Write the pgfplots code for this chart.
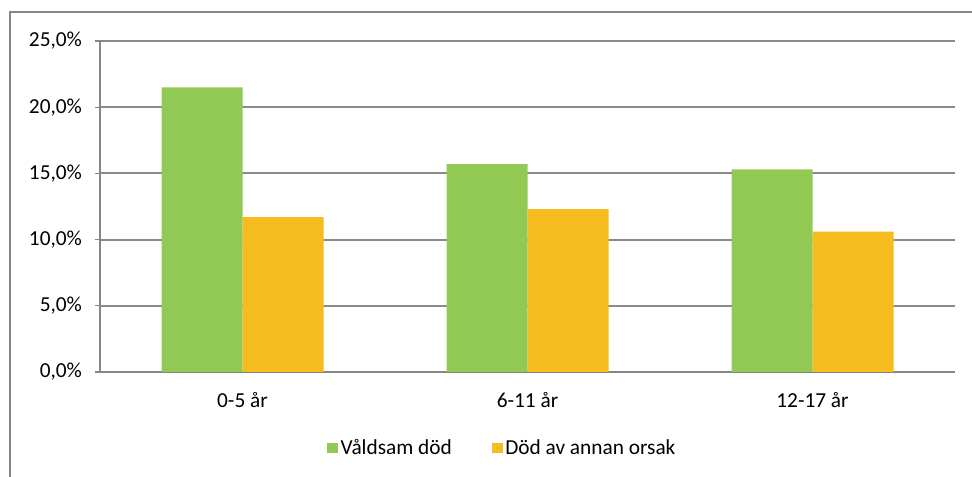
\documentclass[border=0pt]{standalone}
\usepackage{fontspec}
\setmainfont{Carlito}
\usepackage{pgfplots}
\pgfplotsset{compat=1.18}
\definecolor{vgreen}{HTML}{92C955}
\definecolor{vorange}{HTML}{F6BB1F}
\definecolor{axgray}{HTML}{868686}
\definecolor{gridgray}{HTML}{8A8A8A}
\begin{document}
\begin{tikzpicture}
\useasboundingbox (0,0) rectangle (729pt,357.75pt);
\draw[axgray, line width=1.2pt] (7.5pt,0) -- (7.5pt,348.75pt) -- (729pt,348.75pt);
\begin{axis}[
  at={(75pt,78.75pt)}, anchor=south west,
  scale only axis, width=641.25pt, height=248.25pt,
  font=\fontsize{16}{19}\selectfont,
  ybar, bar width=60.75pt,
  xmin=-0.5, xmax=2.5, ymin=0, ymax=25,
  axis x line=bottom, axis y line=left,
  axis line style={axgray, line width=1.4pt, -},
  tick align=outside,
  xtick={0,1,2}, xticklabels={0-5 år, 6-11 år, 12-17 år},
  x tick style={draw=none},
  extra x ticks={-0.5,0.5,1.5,2.5}, extra x tick labels={},
  extra x tick style={tick style={draw=axgray, line width=1pt}, major tick length=5pt},
  ytick={0,5,10,15,20,25},
  y tick style={axgray, line width=1pt}, major tick length=4pt,
  ymajorgrids, grid style={gridgray, line width=1.4pt},
  /pgf/number format/assume math mode=true,
  yticklabel={\pgfmathprintnumber[fixed,fixed zerofill,precision=1,use comma]{\tick}\%},
  yticklabel style={xshift=-6pt},
  xticklabel style={yshift=-8pt},
  legend style={at={(0.471,-0.23)}, anchor=center, draw=none, legend columns=2,
    /tikz/every even column/.append style={column sep=28pt}},
  legend image code/.code={\fill[#1,draw=none] (0pt,-4pt) rectangle (8pt,4pt);},
]
\addplot[fill=vgreen, draw=none, bar shift=-30.375pt] coordinates {(0,21.5) (1,15.7) (2,15.3)};
\addlegendentry{Våldsam död}
\addplot[fill=vorange, draw=none, bar shift=30.375pt] coordinates {(0,11.7) (1,12.3) (2,10.6)};
\addlegendentry{Död av annan orsak}
\end{axis}
\end{tikzpicture}
\end{document}
